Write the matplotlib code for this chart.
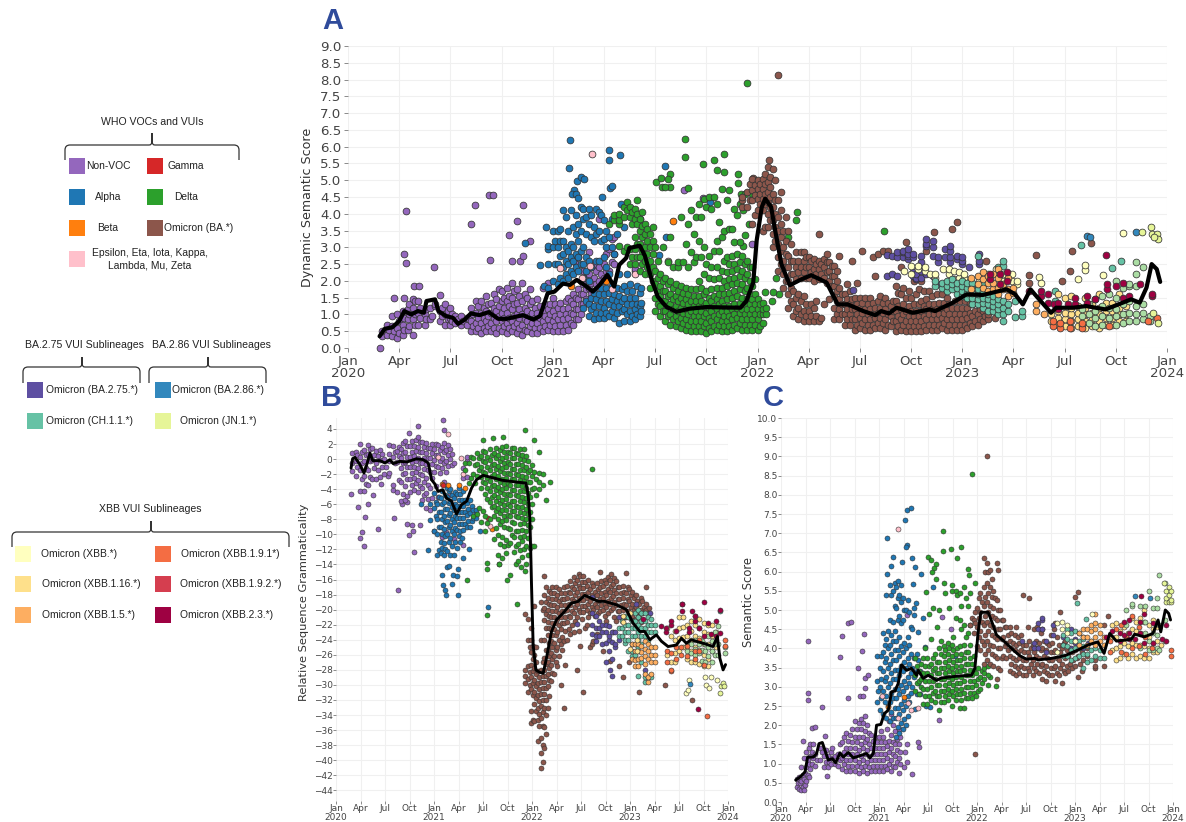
import matplotlib
matplotlib.use("Agg")
import matplotlib.pyplot as plt
from matplotlib.path import Path
from matplotlib.patches import PathPatch, Rectangle

# x values are months since Jan 2020; each row is [x, y1, y2, ...]
MONTH_LABELS = ["Jan\n2020","Apr","Jul","Oct","Jan\n2021","Apr","Jul","Oct","Jan\n2022","Apr","Jul","Oct","Jan\n2023","Apr","Jul","Oct","Jan\n2024"]

COL_NONVOC="#9467bd"; COL_ALPHA="#1f77b4"; COL_BETA="#ff7f0e"; COL_GAMMA="#d62728"; COL_DELTA="#2ca02c"; COL_OMI="#8c564b"; COL_OTHER="#ffc0cb"
COL_275="#5e4fa2"; COL_CH="#66c2a5"; COL_286="#3288bd"; COL_JN="#e6f598"; COL_XBB="#ffffbf"; COL_116="#fee08b"; COL_15="#fdae61"; COL_191="#f46d43"; COL_192="#d53e4f"; COL_23="#9e0142"; COL_EG="#abdda4"

# ---------- Panel A ----------
A_MEAN_X=[1.85,2.15,2.6,3.0,3.3,3.7,4.1,4.45,4.6,5.1,5.3,5.75,6.15,6.45,6.85,7.2,7.7,8.25,8.8,9.3,10.25,10.85,11.25,11.7,12.1,12.6,13,13.4,13.85,14.35,14.75,15.2,15.6,15.9,16.3,16.5,17.1,17.4,17.8,18.15,18.65,19.25,20,21,23,23.35,23.75,23.95,24.25,24.45,24.8,25.0,25.4,25.9,26.5,27.15,28.05,28.7,29.3,30.2,30.9,31.25,31.7,32.15,33.1,34.1,34.4,35.45,36.25,37.2,38.6,39.1,39.55,40,40.25,41.2,41.5,42.5,43.25,44.4,45.4,45.9,46.4,46.8,47.1,47.4,47.6]
A_MEAN_Y=[.35,.57,.62,.8,1.1,1.0,1.1,1.05,1.4,1.45,1.1,.95,.9,.72,.85,1.03,.98,1.07,.87,.87,.98,.85,.95,1.63,1.68,1.92,1.88,2.03,1.88,1.68,1.88,2.18,1.83,2.48,2.68,2.98,3.05,2.75,2.03,1.53,1.23,1.08,1.17,1.22,1.2,1.4,1.95,3.2,4.2,4.45,4.2,3.6,2.5,1.87,2.03,2.17,1.95,1.3,1.3,1.1,.98,1.1,1.03,1.2,1.05,1.15,1.1,1.35,1.6,1.58,1.75,1.6,1.3,1.75,1.6,1.05,1.2,1.2,1.25,1.15,1.35,1.45,1.35,1.8,2.5,2.35,1.97]
A_NONVOC=[[1.85,0.0],[2.0,.35,.5],[2.3,.4,.7],[2.4,.55],[2.6,.35,.65,.95],[2.7,.5],[2.9,.3,.6,1.0],[3.0,.45,.8],[3.2,.4,.7,1.1],[3.3,.55,.9,1.5],[3.5,.55,.85,1.15],[3.6,.65,1.0,1.3],[3.8,.4,.85,1.2,1.45],[3.9,.7,1.0,1.4],
[3.38,4.09,2.53],[3.28,2.81],[3.85,1.86],[4.16,1.86],[5.04,2.42],[2.68,1.5],
[4.1,.7,1.05,1.4],[4.2,.9,1.2],[4.5,.7,1.0],[4.6,.85,1.15],[4.8,.85,1.2],[4.95,.95],[5.1,1.25,1.3],[5.4,.8,1.1,1.58],[5.5,.95,1.2],[5.7,.7,1.0,1.3],[5.85,.85,1.1],[6.0,.7,.9,1.2],[6.1,.8,1.0],[6.3,.75,.95],[6.45,.85],[6.6,.7,.95],[6.75,.8],[7.0,.7,.9],[7.1,.85],
[7.2,.5,.8,1.2],[7.33,.65,1.0],[7.5,.5,.75,1.05,1.4],[7.62,.6,.9,1.25],[7.8,.45,.75,1.05,1.4],[7.95,.6,.9,1.2],[8.1,.5,.8,1.1,1.55],[8.22,.65,.95,1.3],[8.4,.5,.75,1.05,1.35],[8.55,.6,.9,1.2,1.6],[8.7,.45,.8,1.1,1.45],[8.85,.6,.95,1.25,1.75],[9.0,.5,.8,1.05,1.4,1.7],[9.15,.65,.9,1.2,1.5],[9.3,.45,.75,1.05,1.4,1.8],[9.45,.6,.9,1.25,1.55],[9.6,.5,.8,1.15,1.5,1.95],[9.75,.65,.95,1.3,1.7],[9.9,.45,.75,1.0,1.35,1.75],[10.05,.6,.9,1.15,1.55],[10.2,.4,.7,1.0,1.4,1.95],[10.35,.55,.85,1.2,1.6],[10.5,.5,.8,1.1,1.5],[10.65,.65,.95,1.3,1.75],[10.8,.45,.75,1.05,1.4],[10.95,.6,.9,1.2],[11.1,.45,.75,1.05,1.45],[11.25,.6,.9,1.25],[11.4,.5,.8,1.1,1.8],[11.55,.65,.95,1.3],[11.7,.55,.85,1.15,1.95],[11.85,.7,1.0,1.3],[12.0,.5,.8,1.1,1.5],[12.15,.65,.95,1.3],[12.3,.5,.85,1.2],[12.45,.7,1.0,1.35],[12.6,.5,.85,1.15],[12.75,.7,1.0,1.4],[12.9,.55,.9,1.2,1.5],[13.05,.75,1.05,1.4],[13.2,.7,1.0,1.3,1.6],[13.35,.85,1.15,1.5,2.5],[13.5,.85,1.15,1.45,1.75,2.7],[13.65,1.0,1.3,1.6,2.0],[13.8,1.3,1.6,1.9,2.3],[13.95,1.45,1.75,2.1],[14.1,1.4,1.8,2.2,2.85],[14.25,1.6,1.95,2.4],[14.4,1.7,2.1,2.5],[14.55,1.9,2.3],[14.7,2.0,2.4,3.85],[14.85,2.2],[15.0,2.1,2.5],[15.15,2.3,2.8],[15.3,2.3,2.95],[15.45,2.55,3.25],[15.6,2.5,2.8,3.3],[16.8,2.3,2.35],
[19.7,4.72],[20.8,4.47],[7.23,3.69],[7.44,4.27],[8.26,4.56],[8.5,4.55],[8.3,2.63],[9.43,3.38],[9.9,3.79],[10.23,4.27],[9.63,2.6],[10.06,2.6],[10.25,2.73],[10.64,3.2],[23.7,3.1]]
A_ALPHA=[[13.03,6.19],[12.95,5.36],[15.3,5.89,5.6],[15.94,5.76],[15.33,4.77],[15.47,4.82],[14.9,4.5],[13.44,4.98],[13.67,5.1],[13.85,5.03],[13.24,4.7],[13.1,4.6],[13.38,4.6],[13.5,4.47],[16,4.3],[11.58,3.62],[11.23,2.48],[11.5,1.84],[10.35,3.13],
[11.7,1.8,2.5,2.95,3.05],[12.0,2.0,3.0,3.5],[12.15,2.5,3.2],[12.3,1.9,2.5,3.0,3.5],[12.45,2.1,2.75,3.2,3.55],[12.6,2.0,2.4,2.8,3.2,4.1],[12.75,2.2,2.6,3.0,3.9],[12.9,2.1,2.5,2.9,3.5],[13.05,2.3,2.7,3.1,4.1],[13.2,2.2,2.6,3.0,3.6],[13.35,2.4,2.8,3.4,3.95],[13.5,2.3,2.7,3.2,3.7],[13.65,2.5,2.9,3.5,4.2],[13.8,1.2,2.1,2.5,3.0,3.85,4.15],[13.95,1.4,2.3,2.7,3.4,3.9],[14.1,.95,1.3,2.0,2.6,3.7,4.15],[14.25,1.15,1.5,2.4,3.3,3.95],[14.4,.85,1.25,1.65,3.2,3.6],[14.55,1.05,1.45,2.6,3.4,4.15],[14.7,.9,1.25,1.6,2.6,3.5,4.05],[14.85,1.05,1.4,1.8,3.2,3.95],[15.0,.9,1.2,1.6,2.0,2.7,3.25,3.8],[15.15,1.05,1.4,1.8,2.4,3.0,3.5],[15.3,.95,1.3,1.65,2.2,3.3],[15.45,1.1,1.45,1.85,3.0,3.85],[15.6,.9,1.25,1.6,2.8],[15.75,1.05,1.4,1.8,3.4],[15.9,.75,1.25,1.55,2.2],[16.05,1.1,1.4,1.75],[16.2,.8,1.15,1.5,1.85,3.6],[16.35,1.0,1.3,1.7,2.2],[16.5,.8,1.1,1.5,1.9],[16.65,.95,1.3,1.7],[16.8,.85,1.15,1.5],[16.95,1.0,1.3,1.85],[17.1,.95,1.25,1.65,3.85],[17.2,1.1,1.35,1.8],[18.65,3.3],[18.55,5.43],[18.2,2.76],[21.2,4.35]]
A_BETA=[[19.04,3.78],[13.05,1.86],[15.14,2.0]]
A_OTHER=[[14.32,5.77],[12.4,2.38],[13.7,2.1],[14.2,2.43],[15.47,1.76],[16.84,2.2],[18.75,2.58]]
A_DELTA=[[19.77,6.23,5.7],[20.8,5.48],[21.43,5.6],[21.62,5.3],[22.03,5.79,5.25],[22.85,5.2,4.93],[18.03,4.96],[18.36,5.08],[18.85,5.19,4.79],[18.73,5.04],[18.4,4.79],[18.6,4.79],[19.9,4.77],[23.06,4.6],[23.16,4.1,3.05],[23.5,3.7],[23.26,3.37],[23.36,7.9],[31.4,3.48],[26.3,4.06],[26.27,3.82],[25.76,3.3],[25.1,2.1],[24.43,1.66],[25.25,1.6],[24.86,1.39],
[15.3,3.7],[15.6,3.8,3.95],[15.9,3.05,3.7,3.8,4.0],[16.2,2.9,3.9,4.2],[16.35,3.0,4.1,4.35],[16.5,2.5,2.95,3.9,4.2],[16.65,2.7,3.7,4.05],[16.8,2.5,2.95,3.3,3.85,4.15],[16.95,2.7,3.1,3.7,4.0,4.4],[17.1,2.3,2.7,3.1,3.5,3.85],[17.25,2.5,2.9,3.3,3.65,4.05],[17.4,2.2,2.6,3.0,3.4,3.7],[17.55,2.4,2.8,3.2,3.55],[17.7,1.8,2.2,2.6,3.0,3.4],[17.85,2.0,2.4,2.8,3.2,3.6],
[18.0,1.1,1.5,1.9,2.3,3.0],[18.15,1.3,1.7,2.1,2.6],[18.3,.95,1.25,1.55,1.85,2.2],[18.45,1.1,1.4,1.7,2.0,3.0],[18.6,.8,1.1,1.4,1.7,2.1],[18.75,.95,1.25,1.55,1.9,2.55],[18.9,.7,1.0,1.3,1.6,2.0,3.3],[19.05,.85,1.15,1.45,1.8,2.4],[19.2,.65,.95,1.25,1.55,1.9],[19.35,.8,1.1,1.4,1.7,2.4,2.55],[19.5,.6,.9,1.2,1.5,1.85,3.9],[19.65,.75,1.05,1.35,1.65,2.55],[19.8,.55,.85,1.15,1.45,1.8,3.1],[19.95,.7,1.0,1.3,1.6,2.4,3.7],[20.1,.5,.8,1.1,1.4,1.75,2.85,4.1],[20.25,.65,.95,1.25,1.55,2.55,3.4],[20.4,.5,.8,1.1,1.4,1.75,2.7,3.9],[20.55,.65,.95,1.25,1.55,2.0,3.2,4.3],[20.7,.5,.8,1.1,1.4,1.8,2.7,3.9],[20.85,.65,.95,1.25,1.6,2.2,3.0,4.45],[21.0,.45,.75,1.05,1.35,1.7,2.5,4.2],[21.15,.6,.9,1.2,1.5,2.1,2.75,4.5],[21.3,.5,.8,1.1,1.4,1.75,2.4,4.15],[21.45,.65,.95,1.25,1.55,2.05,2.9,4.5],[21.6,.55,.85,1.15,1.45,1.8,2.4,3.2,4.3],[21.75,.7,1.0,1.3,1.6,2.1,2.9,3.75],[21.9,.5,.8,1.1,1.4,1.8,2.3,3.3,4.75],[22.05,.65,.95,1.25,1.6,2.0,2.6,3.5],[22.2,.5,.8,1.1,1.45,1.85,2.25,2.7,4.4],[22.35,.65,.95,1.25,1.65,2.05,2.5,3.55,4.7],[22.5,.55,.85,1.15,1.5,1.9,2.3,2.75,3.55],[22.65,.7,1.0,1.3,1.7,2.1,2.5,3.15,4.15],[22.8,.6,.9,1.2,1.55,1.95,2.35,2.8,3.95],[22.95,.75,1.05,1.35,1.75,2.15,2.55,3.15,4.3],[23.1,.55,.85,1.15,1.5,1.9,2.3,2.75],[23.25,.7,1.0,1.3,1.7,2.1,2.5,4.6],[23.4,.55,.85,1.15,1.45,1.8,2.2,2.6],[23.55,.7,1.0,1.3,1.6,2.0,2.4],[23.7,.55,.85,1.15,1.45,1.85,2.4,4.6],[23.85,.7,1.0,1.3,1.6,2.05],[24.0,.55,.85,1.15,1.45],[24.15,.65,1.0,1.3],[24.3,.75,1.0,1.15,1.35],[24.5,1.0,1.2],[24.88,1.66]]
A_OMI=[[24.68,5.59],[23.75,5.06],[23.1,4.2,4.4,4.5],[23.4,4.2,4.65],[23.55,4.4,4.9],[23.7,3.7,4.4,4.7,5.05],[23.85,3.95,4.55,4.85],[24.0,4.1,4.45,4.75,5.0],[24.15,4.3,4.6,4.9],[24.3,3.5,4.1,4.45,4.75,5.05],[24.45,3.6,4.3,4.6,4.9,5.18],[24.6,3.6,4.0,4.35,4.65,4.95,5.38],[24.75,3.8,4.2,4.5,4.8,5.1],[24.9,3.0,3.4,3.8,4.2,4.6,5.34],[25.05,3.2,3.6,4.0,4.4,5.0],[25.2,2.3,2.7,3.1,3.5,3.9,4.4,8.14],[25.35,2.5,2.9,3.3,3.7,4.1,4.65],[25.5,1.8,2.2,2.6,3.0,3.5],[25.65,2.0,2.4,2.8,3.2,3.9],[25.8,1.2,1.6,2.0,2.4,2.75,3.5],[25.95,1.4,1.8,2.2,2.6,3.1],[26.1,.95,1.3,1.7,2.2,2.6],[26.25,1.1,1.5,2.05,2.4,2.85],[26.4,.85,1.2,1.6,2.25,2.6],[26.55,1.0,1.4,2.1,2.4,2.85],[26.7,.8,1.1,1.55,2.25,2.6,2.85],[26.85,.95,1.3,2.1,2.4,2.7],[27.0,.8,1.1,2.1,2.4,2.7],[27.15,.95,1.3,2.25,2.6],[27.3,.8,1.2,2.0,2.35,2.65],[27.45,.95,1.4,2.2,2.5],[27.6,.8,2.05,2.35,2.6,3.4],[27.75,.9,2.2,2.5],[27.9,1.3,2.1,2.4,2.65],[28.05,1.95,2.25,2.55,2.8],[28.2,1.45,2.0,2.3,2.55],[28.35,1.85,2.15,2.45],[28.5,.85,1.2,1.55,1.85,2.15,2.45],[28.65,1.0,1.4,1.7,2.0,2.3],[28.8,.85,1.15,1.45,1.8,2.75],[28.95,1.0,1.3,1.6],[29.1,.7,1.0,1.3,1.6],[29.25,.85,1.15,1.45,1.9],[29.4,.7,1.0,1.3,1.7],[29.55,.85,1.15,1.45,2.6],[29.7,.55,.85,1.15,1.5],[29.85,.7,1.0,1.3,1.95],[30.0,.6,.9,1.2,1.5],[30.15,.75,1.05,1.35,2.9],[30.3,.55,.85,1.15,1.5],[30.45,.7,1.0,1.3],[30.6,.55,.85,1.15,1.5],[30.75,.7,1.0,1.35,2.7],[30.9,.6,.9,1.2,2.15],[31.05,.75,1.05,1.4,2.8],[31.2,.6,.9,1.2,1.55],[31.35,.75,1.05,1.35,2.9],[31.5,.55,.85,1.15,1.5],[31.65,.7,1.0,1.35,2.9],[31.8,.65,.95,1.25],[31.95,.8,1.1,1.4],[32.1,.5,.8,1.1,1.4,1.85],[32.25,.65,.95,1.25,1.65],[32.4,.55,.85,1.15,1.6,2.4],[32.55,.7,1.0,1.3,1.8],[32.7,.5,.8,1.1,1.5,3.15],[32.85,.65,.95,1.25,1.7],[33.0,.5,.8,1.1,1.5],[33.15,.65,.95,1.3,2.0],[33.3,.5,.8,1.1,1.6],[33.45,.65,.95,1.3,1.75],[33.6,.5,.8,1.1,1.4,2.0],[33.75,.65,.95,1.25,1.7],[33.9,.55,.85,1.15,1.45,2.9],[34.05,.7,1.0,1.3,1.7],[34.2,.55,.85,1.15,1.55],[34.35,.7,1.0,1.3,3.45],[34.5,.55,.85,1.15,1.6],[34.65,.7,1.0,1.35],[34.8,.6,.9,1.2,1.6],[34.95,.75,1.05,1.35],[35.1,.55,.85,1.15,1.5],[35.25,.7,1.0,1.3],[35.4,.55,.85,1.2,3.55],[35.55,.7,1.0,1.4],[35.7,.55,.85,1.2,3.75],[35.85,.7,1.0,1.4],[36.0,.55,.85,1.2],[36.15,.7,1.0,1.4],[36.3,.6,.9,1.2],[36.45,.75,1.05,1.35],[36.6,.65,.95,1.3],[36.75,.8,1.1],[36.9,.7,1.0],[37.05,.85,1.15],[37.2,.8,1.1],[37.35,.95],[37.5,.85,1.0],[37.9,.9],[37.42,2.58],[40.3,2.76],[42.44,2.88],[43.57,3.13],[42.34,2.28],[41.87,2.0],[39.9,1.94,2.18]]
A_275=[[29.57,1.74],[31.6,2.15,2.77],[31.9,2.2,2.75],[32.2,2.15,2.7,2.85],[32.5,2.7,2.85,2.9],[32.8,2.65,2.75,2.8,2.95],[33.1,2.15,2.25,2.7,2.8],[33.3,2.05,2.1,2.2],[33.6,2.1,2.3,2.55,2.75],[33.9,2.2,3.05,3.1,3.25],[34.3,2.15,2.75,3.0,3.2],[34.6,1.9,2.55,2.7],[35.0,2.7,2.95],[35.3,2.55,2.7,2.9,3.05],[35.7,2.65,2.75],[36.0,2.5,2.6,2.7],[36.4,2.4],[37.0,2.5,2.6,2.8]]
A_CH=[[34.4,1.85,2.0],[34.8,1.8,1.95],[35.1,1.7,1.85,2.0],[35.4,1.75,1.9,2.05],[35.7,1.6,1.8,1.95],[36.0,1.55,1.7,1.85,2.0],[36.3,1.5,1.65,1.8,1.95],[36.6,1.3,1.5,1.65,1.8,1.95],[36.9,1.3,1.45,1.6,1.75,2.75],[37.2,1.2,1.35,1.5,1.7,1.9],[37.5,1.1,1.3,1.45,1.6],[37.8,1.1,1.25,1.4,1.55],[38.1,1.0,1.15,1.3,1.45,2.4],[38.4,.8,1.0,1.2,1.4,2.45,2.6],[38.7,1.1,1.3],[39.1,.93,1.4],[39.5,.95,1.1],[42.98,3.08],[44.75,2.38],[45.3,2.58],[41.46,1.4,1.7]]
A_XBB=[[32.6,2.3],[33.0,2.2,2.45],[33.4,2.35,2.45],[33.8,2.3,2.4],[34.1,2.2],[34.4,2.1,2.2],[34.9,2.35],[35.2,2.2,2.35],[35.5,2.05,2.3],[35.8,2.1,2.25],[36.1,2.1,2.2],[37,1.9,2.0],[37.5,2.0,2.2],[38,2.35],[38.4,2.0,2.2],[38.9,2.0,2.2],[39.2,1.9,2.0],[40.5,2.12],[40.6,1.93],[43.2,2.33,2.46],[42.8,2.05],[44.25,2.18],[45.4,3.42]]
A_15=[[36.5,1.75,2.1],[36.9,1.9,2.15],[37.2,1.8,2.05,2.25],[37.5,1.7,1.95,2.15],[37.8,1.75,1.95,2.2],[38.1,1.6,1.8,2.1,2.35],[38.4,1.75,1.9],[38.7,1.55,1.75,2.1],[39.0,1.65,1.8],[40.3,1.1,1.3],[40.8,1.0]]
A_116=[[41.2,.8,1.0],[41.6,.7,.9,1.1,1.6],[42.0,.65,.85,1.05,1.5],[42.4,.6,.8,1.0,1.2,1.55],[42.8,.65,.85,1.05,1.25],[43.2,.6,.8,1.0,1.2,1.5],[43.6,.65,.85,1.05,1.3],[44.0,.6,.8,1.0,1.2,1.6],[44.4,.7,.9,1.1,1.35],[44.8,.7,.9,1.1,1.35],[45.2,.8,1.0,1.2,1.6],[45.6,.8,1.0,1.25]]
A_191=[[41.3,.65,.8],[41.7,.6,.75],[42.3,.6,.8],[43.0,.6,.75],[44.6,.65],[46.9,.8],[47.4,.9]]
A_EG=[[43.0,.7,.95,1.15],[43.4,.75,1.0,1.3],[43.8,.65,.9,1.1,1.45],[44.2,.7,.95,1.25,1.55],[44.6,.9,1.2,1.6],[45.0,.7,.95,1.15,1.5,2.0],[45.4,.75,1.0,1.3,1.8],[45.8,.8,1.05,1.4,1.85,1.9],[46.2,.8,1.0,1.25,1.85,2.2,2.55],[46.6,.85,1.05,1.3,2.4],[47.0,.8,.95]]
A_23=[[37.6,2.05,2.2],[38.2,1.9,2.2],[38.6,2.0,2.25],[39.9,1.7],[40.6,1.55,1.7],[41.0,1.35,1.6],[41.4,1.3],[41.6,1.15,1.35],[42.2,1.3],[42.6,1.3,1.5],[43.3,1.35,1.55],[43.8,1.45],[44.5,1.75,1.9],[45.0,1.85],[45.4,1.5,1.95],[45.8,1.55],[46.4,1.9],[47.1,1.55,1.6],[44.45,2.76]]
A_286=[[46.2,3.46],[43.33,3.35],[43.5,3.3]]
A_JN=[[47.05,3.62],[47.15,3.4],[47.4,3.4],[47.5,3.25],[47.25,3.3],[46.56,3.45],[47.46,.75],[47.2,1.05]]

# ---------- Panel B ----------
B_MEAN_X=[1.84,2.04,2.32,2.94,3.43,3.83,4.16,4.49,5.38,6.0,6.6,7.0,7.83,8.65,9.87,10.7,11.3,11.7,12.1,12.5,13.05,13.54,14.15,14.76,15.37,15.99,16.6,17.2,18.03,19.25,20.47,22.1,23.25,23.53,23.74,23.94,24.14,24.47,24.88,25.37,25.77,26.39,27,27.8,28.83,29.65,30.46,31.28,32.1,32.9,34.34,35.56,36.38,37.2,37.8,38.42,39.23,39.85,40.66,41.68,42.3,42.9,43.5,44.1,44.94,46.17,46.7,47,47.4,47.7]
B_MEAN_Y=[-1.2,.06,.23,-.74,-1.85,-.52,.8,-.2,-.2,-.52,-.08,-.6,-.3,-.39,.05,-.08,-.52,-2.74,-3.3,-4.3,-4.07,-5.18,-5.6,-7.3,-6.06,-5.6,-3.85,-2.74,-2.16,-2.5,-2.83,-3.05,-3.18,-4.73,-7.84,-16.7,-24.68,-28,-28.3,-28.45,-26.45,-22.9,-21.35,-20.47,-19.14,-18.9,-18.1,-18.5,-18.9,-18.9,-19.36,-20,-21.8,-22.9,-22.9,-24,-23.35,-24.2,-24.9,-24.7,-23.8,-24.46,-24,-24.2,-24.46,-24.9,-23.57,-26.45,-28,-27.3]
B_NONVOC=[[1.84,-4.7],[2.73,-6.4],[3.96,-6],[3.14,-9.75],[2.94,-10.5],[3.43,-11.6],[3.55,-7.7],[4.57,-4.8],[5.18,-9.3],[5.47,-3.3],[6.4,-2.3],[6.93,-4.07],[7.14,-7.85],[7.63,-17.4],[8.73,-8.6],[9.26,-8.8],[8.93,-10.1,3.5],[9.46,-9.6],[10.28,-8.7],[9.6,-12.3],[8.1,-6],[8.65,-5.7],[10.07,4.35],[13.05,5.2],[13.25,3.9],
[1.9,-1.6,-.5,.8],[2.4,-2.2,-.2,1.0],[2.6,-1,.5],[2.9,-4.2,-1.5,.3,2.0],[3.15,-2.6,-.5,1.0],[3.4,-4.2,-2.3,-.2,1.2],[3.65,-3.3,-1.2,.6],[3.9,-3.4,-1.5,.7,1.9],[4.15,-2.4,-.2,1.3],[4.4,-2.6,-.1,1.5],[4.65,-1.2,.6],[4.9,-2.6,-.5,1.1],[5.15,-1.4,.4],[5.4,-2.4,-.1,1.2],[5.65,-1,.7],[5.9,-2.0,.0],[6.15,-1.1],[6.5,-1.9,-.2,.7,1.9],[7.0,-3.5,.3,1.7],[7.25,-.5,1.0],[7.5,-4.4,-.4,1.1],[7.75,-2.8,.4,1.6],[8.0,-5.6,-3.0,-1.2,.2,1.4],[8.25,-4.6,-2,-.5,.8,2.1],[8.5,-5.4,-3.6,-1.9,-.4,1,2.4],[8.75,-4.9,-2.7,-1.1,.3,1.7],[9.0,-4.4,-2.7,-1.1,.3,1.7],[9.25,-3.5,-1.9,-.4,1,2.4],[9.5,-4.1,-2.5,-1,.4,1.8],[9.75,-3.2,-1.7,-.3,1.1,2.5],[10.0,-4.4,-2.8,-1.2,.2,1.6,3],[10.25,-3.6,-2,-.5,.9,2.3],[10.5,-5.4,-3.9,-2.1,-.5,.9,2.3],[10.75,-4.8,-3,-1.3,.2,1.6],[11.0,-6.5,-4.5,-2.5,-.7,.8,2.2],[11.25,-5.3,-3.5,-1.5,.1,1.5],[11.5,-6.7,-3.8,-1.7,.1,1.5],[11.75,-5.2,-2.5,-.7,.8,2.0],[12.0,-9.5,-1.7,-.1,1.3],[12.25,-3.6,-.9,.6,2.0],[12.5,-5,-1,.5,1.9],[12.75,-1.8,-.2,1.2],[13.0,-10.3,-1.2,.2,1.6],[13.25,-3,-.5,.9,2.2],[13.5,-9.7,-1.7,-.2,1.2],[13.75,-3.6,-.9,.5,1.9],[14.0,-4.8,0,1.4],[14.25,-.8,.7],[14.5,-10.6,-6.6,-4.9,-.5],[15.5,-11.4,-2.5,-1.2],[16,-2.4,-.2,.3]]
B_ALPHA=[[10.36,-6],[11.3,-12.1],[11.5,-8.05,-6],[12.93,-15.4],[13.13,-16.7],[13.33,-17.4],[13.46,-18],[13.62,-14.3],[13.87,-14.2],[14.35,-15.4],[14.23,-16.6],[14.76,-15.5],[14.89,-14.6,-18.1],[15.54,-13.2],[16.3,-11.9],[18.64,-19.6],
[12.0,-9.5,-6.5,-4.5],[12.2,-7.5,-5.7],[12.4,-12.8,-10,-8,-6],[12.6,-12.1,-9,-7,-5],[12.8,-12.5,-11,-9,-7,-5.2],[13.0,-11.8,-10,-8,-6,-4.3],[13.2,-12.8,-11.2,-9.3,-7.5,-5.7],[13.4,-12,-10.2,-8.4,-6.6,-4.8],[13.6,-12.2,-10,-8.2,-6.6,-5,-3.8],[13.8,-11,-9,-7.4,-5.8,-4.2],[14.0,-12.8,-10.5,-8.8,-7.2,-5.6,-4],[14.2,-11.6,-9.6,-8,-6.4,-4.8],[14.4,-12.8,-10,-8.4,-6.8,-5.2],[14.6,-11,-9.2,-7.6,-6,-4.4],[14.8,-11.8,-9.4,-7.8,-6.2,-4.6],[15.0,-10.2,-8.6,-7,-5.4,-3.8],[15.2,-11,-9.5,-7.8,-6.2,-4.6],[15.4,-10.5,-8.6,-7,-5.4],[15.6,-9.4,-7.8,-6.2,-4.3],[15.8,-8.6,-7,-5.4],[16.0,-9,-7.4,-5.8],[16.2,-8.2,-6.6],[16.4,-9,-7.2,-5.4],[16.6,-8.2,-6.2],[16.8,-7.8,-6.8],[17.0,-7.5],[17.2,-7.8,-7.2,-6.7],[17.6,-9.5]]
B_BETA=[[12.93,-3.27],[13.74,-3.5],[15.09,-3.5],[15.78,-3.9],[19.05,-9.25]]
B_GAMMA=[[13.1,-3.4],[18.64,-7.84]]
B_OTHER=[[13.74,3.38],[12.44,.3],[15.6,-2],[15.25,.2],[18.84,-8.9]]
B_DELTA=[[23.12,3.9],[24.27,2.6],[24.88,1],[20.47,3],[19.25,2.8],[17.94,2.6],[31.36,-1.3],[26.26,-3.1],[25.77,-5.4],[16,-16.1],[18.43,-13.8,-14.6,-20.7],[22.2,-19.2],[21.3,-15.4],[20.96,-16],[23.1,-14.8],[19.9,-14],[20,-13.9],[22.1,-14],[22.7,-14.3],
[15.8,-1.5,-.5],[16.3,-3.2,-.5],[16.5,-2.5,.3],[16.8,-7.5,-2,.2],[17.0,-3.2,-.8],[17.3,-7.3,-2.3,-.7,.8],[17.55,-6.5,-1.5,.1],[17.8,-8.3,-3.8,-2.4,-1,.4],[18.05,-6.9,-3.1,-1.7,-.3,1.1],[18.3,-9.5,-7.5,-4.6,-3.2,-1.8,-.4,1.0],[18.55,-8.5,-5.3,-3.9,-2.5,-1.1,.3],[18.8,-8,-5.7,-4.3,-2.9,-1.5,-.1,1.3],[19.05,-6.4,-5,-3.6,-2.2,-.8,.6],[19.3,-10.6,-7.6,-6.2,-4.8,-3.4,-2,-.6,.8],[19.55,-9.2,-6.9,-5.5,-4.1,-2.7,-1.3,.1,1.5],[19.8,-12.8,-10.1,-7.9,-6.5,-5.1,-3.7,-2.3,-.9,.5],[20.05,-11.3,-8.6,-7.2,-5.8,-4.4,-3,-1.6,-.2,1.2],[20.3,-13.2,-10.3,-8.2,-6.8,-5.4,-4,-2.6,-1.2,.2,1.6],[20.55,-11.6,-9,-7.5,-6.1,-4.7,-3.3,-1.9,-.5,.9],[20.8,-12.5,-10.7,-8.1,-6.7,-5.3,-3.9,-2.5,-1.1,.3,1.7],[21.05,-11.4,-9.2,-7.4,-6,-4.6,-3.2,-1.8,-.4,1],[21.3,-11.2,-9.3,-7.6,-6.2,-4.8,-3.4,-2,-.6,.8],[21.55,-10.1,-8.3,-6.9,-5.5,-4.1,-2.7,-1.3,.1,1.5],[21.8,-12.3,-10.4,-8.5,-6.9,-5.5,-4.1,-2.7,-1.3,.1,1.5],[22.05,-11.5,-9.5,-7.6,-6.2,-4.8,-3.4,-2,-.6,.8],[22.3,-13.6,-11.3,-9.5,-7.7,-6.3,-4.9,-3.5,-2.1,-.7,.7],[22.55,-12.1,-10.3,-8.6,-7,-5.6,-4.2,-2.8,-1.4,0,1.4],[22.8,-13,-10.9,-9.4,-7.8,-6.4,-5,-3.6,-2.2,-.8,.6],[23.05,-12,-10.2,-8.5,-7.1,-5.7,-4.3,-2.9,-1.5,-.1,1.3],[23.3,-14,-11.5,-9.6,-8,-6.6,-5.2,-3.8,-2.4,-1,.4],[23.55,-12.8,-10.5,-8.7,-7.3,-5.9,-4.5,-3.1,-1.7,-.3],[23.8,-11.8,-9,-7,-5,-3,-1.5],[24.05,-11.5,-8,-6,-4,-2.2,-.8],[24.3,-11.5,-3.8,-1.7],[24.5,-4.8,-2.7],[24.8,-4,-3,-1.8],[25.3,-3.5,-2]]
B_OMI=[[40.34,-30],[43.6,-32],[42.37,-19.2],[23.1,-29.7,-28.8,-28,-20.6],[23.5,-31,-29.2,-27.5,-24,-21.2],[23.7,-30,-28.3,-25],[23.9,-35,-33.5,-30.5,-28.9,-27.3,-25.6,-24,-22.5],[24.1,-34.6,-31.4,-29.7,-28.1,-26.5,-24.8],[24.3,-34.8,-32.6,-31,-29.4,-27.8,-26,-19.5],[24.5,-33.5,-31.8,-30.2,-28.6,-27,-25],[24.7,-37.5,-34.6,-33,-31.4,-29.8,-28.2],[24.9,-35.5,-33.8,-32.2,-30.6,-29],[25.1,-41,-39,-37,-34.4,-32.8,-31.2,-29.6,-28,-24,-19],[25.3,-40.2,-38,-35.5,-33.6,-32,-30.4,-28.8,-27,-20],[25.5,-38.4,-35.6,-33,-31.2,-29.6,-28,-26.4,-24,-21.4,-19.8,-18,-15.5],[25.7,-36.5,-34,-32,-30.4,-28.8,-27.2,-25.4,-22.4,-20.6,-19,-17],[25.9,-33,-30.2,-28.6,-27,-25.4,-23.4,-21.6,-20,-18.4],[26.1,-31.5,-29.4,-27.8,-26.2,-24.4,-22.4,-20.8,-19.2,-17.5],[26.3,-29.5,-27.4,-25.8,-24.2,-22.6,-21,-19.4,-17.8],[26.5,-28.4,-26.6,-25,-23.4,-21.8,-20.2,-18.6,-17],[26.7,-28.5,-26.2,-24.4,-22.6,-21,-19.4,-17.8],[26.9,-27,-25.4,-23.4,-21.8,-20.2,-18.6,-17],[27.1,-27.5,-25,-23,-21.2,-19.6,-18],[27.3,-26.2,-24,-22,-20.4,-18.8,-17.2],[27.5,-30,-24.6,-22.6,-21,-19.4,-17.8],[27.7,-25.4,-23.6,-21.8,-20.2,-18.6],[27.9,-33,-24.2,-21.8,-20.2,-18.6,-17],[28.1,-27.3,-22.8,-21,-19.4,-17.8],[28.3,-24,-21.6,-20,-18.4,-16.8],[28.5,-22.6,-20.8,-19.2,-17.6],[28.7,-23.2,-21,-19.4,-17.8,-16.2],[28.9,-22,-20.2,-18.6,-17],[29.1,-23,-20.5,-18.9,-17.3,-15.7],[29.3,-21.5,-19.7,-18.1,-16.5],[29.5,-28,-21,-19.2,-17.6,-16],[29.7,-22.8,-20,-18.4,-16.8,-15.3],[29.9,-24.8,-20.3,-18.7,-17.1,-15.5],[30.1,-21.2,-19.5,-17.9,-16.3],[30.3,-31,-20.3,-18.7,-17.1,-15.5],[30.5,-22.5,-19.5,-17.9,-16.3],[30.7,-22,-20,-18.4,-16.8],[30.9,-21,-19.2,-17.6,-16],[31.1,-25,-20.5,-18.9,-17.3],[31.3,-24.5,-19.7,-18.1,-16.5],[31.5,-24.2,-20,-18.4,-16.8],[31.7,-20.8,-19.2,-17.6],[31.9,-23.3,-19.6,-18,-16.4],[32.1,-20.4,-18.8,-17.2],[32.3,-20.2,-18.6,-17,-15],[32.5,-19.4,-17.8,-16.2],[32.7,-25.5,-20,-18.4,-16.8],[32.9,-20.8,-19.2,-17.6,-16],[33.1,-21.5,-19.7,-18.1,-16.5],[33.3,-20.5,-18.9,-17.3,-15.7],[33.5,-26.8,-19.2,-17.6,-16],[33.7,-20,-18.4,-16.8,-15.2],[33.9,-23,-19.8,-18.2,-16.6],[34.1,-21,-19,-17.4,-15.8],[34.3,-21.5,-19.4,-17.8,-16.2],[34.5,-20.2,-18.6,-17],[34.7,-27.5,-20.2,-18.6,-17],[34.9,-21,-19.4,-17.8],[35.1,-29,-20,-18.4,-16.8],[35.3,-21,-19.2,-17.6],[35.5,-21,-19.4,-17.8,-15.1],[35.7,-20.2,-18.6,-17],[35.9,-27,-20.5,-18.9,-17.3],[36.1,-21.3,-19.7,-18.1],[36.3,-20.8,-19.2,-17.6],[36.5,-20,-18.4],[36.7,-21.2,-19.6,-18],[36.9,-20.4,-18.8],[37.1,-31,-20.8,-19.2],[37.3,-21.6,-20,-18.4],[37.5,-20.4,-18.8],[37.7,-19.6],[37.9,-20,-19.2,-17],[38.3,-20.5,-19.8]]
B_275=[[29.5,-21.9],[31.3,-18.3,-20.5,-22,-23.3],[31.8,-24.2,-23.5,-22.5,-20.8],[32.2,-23.5,-22.5,-21.5],[32.6,-24.5,-23,-22],[33.0,-27,-24.4,-23,-22],[33.4,-25.5,-24,-23.5,-22.2],[33.8,-28.8,-26.5,-24.3,-23],[34.2,-25,-24.5,-23],[34.6,-24,-21],[36.7,-19.2],[37.8,-28],[38.4,-20.5],[33.5,-28]]
B_CH=[[34.6,-23.5,-22.5],[35.0,-23.5,-22.5,-21.5],[35.4,-24.4,-24,-23,-22,-20.8],[35.8,-25.5,-24,-23,-22,-21],[36.2,-26.2,-25.5,-24.5,-23.5,-22.5,-21.5],[36.6,-26,-24.5,-23.5,-22.5,-21.5,-20.5],[37.0,-28.8,-25,-24,-23,-22,-21,-20],[37.4,-27,-24.5,-23.5,-22.5,-21.5,-20.5],[37.8,-29.6,-29,-23.5,-22.5,-21.5,-20.5],[38.2,-28.9,-24,-23,-22,-21],[38.6,-29,-23,-22,-21.2],[39.1,-23,-22],[47,-20.2]]
B_15=[[36.2,-26.5,-24.5],[36.6,-27.5,-26.7,-25.5,-24.5],[37,-27.5,-26.5,-25.5,-24.5],[37.4,-26.4,-25.6,-24.8],[37.8,-28.5,-27.2,-26.2,-25.2,-24.2],[38.2,-29.6,-29,-26.5,-25.5,-24.5],[38.6,-28.5,-27,-26,-25],[39.0,-27,-26,-25]]
B_116=[[35.2,-21.6,-20.8],[36,-25.2,-20.5],[36.8,-25.5,-24],[40.5,-26,-22.5],[41,-27,-23.5],[41.5,-27,-25.8,-24,-22.8],[42,-25.5,-23.8,-22.5,-21],[42.5,-25,-23.6,-22.3,-21],[43,-26.5,-25.2,-23.5,-22],[43.5,-27,-25.5,-24,-22.8,-21.5],[44,-27,-25,-23.5,-22,-20.8],[44.5,-27.2,-25.3,-23.8,-22.5,-21.3],[45,-27.5,-26,-24.5,-23,-21.8],[45.5,-27.5,-26.5,-24.6,-23.3,-22],[46,-25.5,-23.5,-22],[46.5,-25,-23]]
B_XBB=[[42.9,-31.1],[43.2,-29.3],[43.1,-30.7],[45.35,-30],[45.7,-30.4],[45.15,-29],[45.96,-29],[46.6,-29.3]]
B_23=[[37.6,-21.3],[39.8,-22.2],[40.4,-23,-22.5],[41,-22,-21.5],[41.6,-22.8],[42.4,-20.2,-19.2],[43.2,-23,-22.5],[43.6,-20.2],[44,-21.5,-20.8],[44.5,-22.5],[45,-23.5,-19],[45.5,-21.8],[45.9,-23.2],[46.5,-23.5,-21.5],[47,-23.1,-20],[44.3,-33.2]]
B_191=[[40.5,-27,-25.5],[41,-28.2,-28,-25.7],[41.6,-26.5,-25],[42.3,-26,-25],[43,-26.2,-24.8],[44,-26.5,-25.5],[44.5,-25.5,-24],[45,-27.4],[45.47,-34.1],[47.6,-24.8,-24]]
B_EG=[[43,-25.5,-24.7],[43.5,-25.7,-24.5],[44,-26,-25.2,-24],[44.4,-25.8,-24.6],[44.8,-26.8,-25.3,-24.2],[45.2,-27,-25.5,-24.5],[45.6,-26.2,-25,-23.5],[46,-27,-25.5,-24.2],[46.4,-26,-24.6,-23],[46.8,-26,-24.5,-22.2],[47.6,-25.8,-25]]
B_286=[[43.3,-29.9]]
B_JN=[[47.06,-31.1],[47.2,-30.2],[47.4,-29.8],[47.5,-30.2]]

# ---------- Panel C ----------
C_MEAN_X=[1.8,2.32,2.94,3.26,3.96,4.36,4.65,5.06,5.38,5.79,6.28,6.69,7.22,7.63,8.24,8.85,10.48,10.89,11.3,11.7,12.23,12.64,13.13,13.54,13.95,14.36,14.76,15.38,15.99,16.6,16.8,17.4,18.03,19.05,19.66,21.7,23.33,23.74,24.14,24.47,25.37,25.98,26.39,27.4,28.43,29.24,30.06,31.08,31.48,33.1,34.75,36.38,37.6,38.8,39.56,40.25,41.07,42.9,43.3,44.5,45.55,46.17,46.5,47.06,47.47,47.7]
C_MEAN_Y=[.57,.65,.78,1.17,1.17,1.26,1.52,1.55,1.35,1.09,1.13,1.02,1.28,1.17,1.29,1.15,1.26,1.15,1.26,2.0,2.02,2.3,2.39,2.87,2.89,3.09,3.57,3.43,3.48,3.3,3.43,3.22,3.3,3.17,3.23,3.28,3.3,3.48,4.43,4.94,4.94,4.6,4.35,4.17,3.96,3.81,3.72,3.74,3.7,3.74,3.81,3.96,4.09,4.17,3.87,4.39,4.19,4.24,4.37,4.3,4.39,4.74,4.43,5.0,4.91,4.74]
C_NONVOC=[[3.34,4.2,2.65],[3.26,2.85],[5.06,2.48],[3.75,1.94],[4.16,1.95],[2.65,1.58],[5.38,1.71],[7.22,3.78],[7.42,4.33],[8.24,4.66,2.72],[8.56,4.69],[9.38,3.5],[9.87,3.93],[10.2,4.37],[10.28,3.23,2.96],[10.6,3.32],[9.66,2.76],[10.07,2.76],[19.66,4.81],[20.76,4.5],[19.33,2.13],[15.37,4.87,1.5],[16.72,1.55],[16.88,1.43],[15.99,.74],[15.17,1.3],[15.45,1.04],[15.09,.91],[5.59,.68],
[1.9,.4,.6],[2.05,.5],[2.2,.35,.65],[2.35,.5],[2.5,.3,.55,.9],[2.65,.4,.7],[2.8,.3,.6,1.15],[2.95,.45,.75],[3.1,.55,.9,1.3],[3.25,.7,1.1],[3.4,.65,1.0,1.4],[3.55,.85,1.2,1.5],[3.8,1.0,1.3],[3.95,1.15,1.5],[4.2,.95,1.25],[4.35,1.1],[4.8,1.1,1.4],[5.0,1.3],[5.3,.9,1.2],[5.5,1.05,1.35],[5.7,.9,1.2],[5.9,1.05],[6.1,1.0,1.3],[6.3,1.15,1.4],[6.6,1.0,1.2],[7.0,.95,1.25],[7.2,1.1,1.5],[7.5,.85,1.15,1.55],[7.75,1.0,1.3,1.7],[8.0,.8,1.1,1.4,1.8],[8.25,.95,1.25,1.6],[8.5,.8,1.1,1.4,1.75],[8.75,.95,1.25,1.55,1.9],[9.0,.8,1.1,1.4,1.7,2.1],[9.25,.95,1.25,1.55,1.9],[9.5,.75,1.05,1.35,1.7,2.05],[9.75,.9,1.2,1.5,1.9,2.15],[10.0,.8,1.1,1.4,1.7,2.05],[10.25,.95,1.25,1.55,1.85,2.25],[10.5,.75,1.05,1.35,1.65,2.0],[10.75,.9,1.2,1.5,1.8],[11,.8,1.1,1.4,1.75],[11.25,.95,1.25,1.6],[11.5,.8,1.1,1.4,1.7],[11.75,.95,1.25,1.55],[12,.8,1.1,1.4,1.7],[12.25,.95,1.25,1.55,1.85],[12.5,.8,1.1,1.4,1.7],[12.75,.95,1.25,1.55],[13,.85,1.15,1.45,1.9],[13.25,1.0,1.3,1.6,2.1],[13.5,.8,1.1,1.4,1.75,2.3],[13.75,.95,1.25,1.55,2.0],[14,.9,1.2,1.5,1.85],[14.25,1.05,1.35,1.65],[14.4,.75,1.15,1.5,1.9],[14.6,1.0,1.3,1.7]]
C_ALPHA=[[15.45,7.6,6.7],[15.9,7.65],[15.17,7.35],[15.3,6.63],[13,6.87],[13.74,6.37],[14.85,6.26],[16,6.35],[13.42,6.15],[16.4,6.11,2.43],[12.93,5.94],[17.13,5.93],[16.2,5.68],[18.56,5.6],[16.5,5.17],[16.3,4.87],[17.4,4.78],[17.6,4.04],[16.8,4.43],[17.8,2.5],[18.2,2.47],[21.3,3.81],
[11.7,2.6,3.15,3.8],[11.9,2.9],[12.1,2.4,3.0,3.5],[12.3,2.7,3.2,3.8],[12.5,2.3,2.9,3.4,3.9,4.4],[12.7,2.6,3.15,3.65,4.1],[12.9,2.2,2.75,3.25,3.75,4.25,5.4],[13.1,2.5,3.0,3.5,4.0,4.45],[13.3,2.1,2.6,3.1,3.6,4.1,4.75,5.65],[13.5,2.35,2.85,3.35,3.85,4.35,5.4],[13.7,2.2,2.7,3.2,3.7,4.2,4.7,5.5],[13.9,2.45,2.95,3.45,3.95,4.45,5.1,5.7],[14.1,1.7,2.2,2.7,3.2,3.7,4.2,5.05,5.6],[14.3,1.95,2.45,2.95,3.45,3.95,4.75,5.3,5.75],[14.5,1.8,2.3,2.8,3.3,3.8,4.3,4.85,5.4],[14.7,2.05,2.55,3.05,3.55,4.05,4.65,5.2,5.65],[14.9,1.9,2.4,2.9,3.4,3.9,4.75,5.3],[15.1,2.15,2.65,3.15,3.65,4.15,5.0],[15.3,2.0,2.5,3.0,3.5,4.0,5.0],[15.5,2.25,2.75,3.25,3.75,4.3,5.25],[15.7,2.6,3.1,3.6,4.1,4.95],[15.9,2.85,3.35,3.85,4.55],[16.1,3.0,3.5,4.5],[16.3,3.25,3.75,5.05],[16.6,2.8,3.4,3.85],[16.8,3.1,3.7],[17,2.8,3.4]]
C_BETA=[[15.09,2.74],[13.05,2.48]]
C_OTHER=[[14.36,7.1],[12.4,2.76],[14.27,2.2],[15.5,2.57],[15.9,2.39],[16.8,2.45]]
C_DELTA=[[23.33,8.54],[19.78,7.06,6.54],[20.76,6.59],[22,6.63],[18.03,6.37],[18.35,6.29],[18.92,6.19,5.81],[18.76,6.09],[18.43,5.98],[17.8,5.48],[19.94,5.7],[20.88,5.65],[21.5,6.35],[22.9,6.07],[23,5.9],[23.73,5.7],[26.3,3.02],[25.6,3.26],
[16.4,2.9,3.3,3.75],[16.6,3.1,3.55],[16.9,2.8,3.15,3.4],[17.1,3.0,3.2,3.6],[17.4,2.55,2.95,3.35,3.75],[17.6,2.75,3.15,3.55,4.0],[17.9,2.55,2.95,3.35,3.75],[18.1,2.75,3.15,3.55,4.9],[18.4,2.65,3.0,3.3,3.6,4.25],[18.6,2.85,3.15,3.45,3.75,5.05],[18.9,2.6,2.9,3.2,3.5,3.85],[19.1,2.75,3.05,3.35,3.65,4.55],[19.4,2.4,2.75,3.05,3.35,3.65,4.0,5.0],[19.6,2.6,2.9,3.2,3.5,3.85,4.2],[19.9,2.6,2.9,3.2,3.5,3.8,4.05],[20.1,2.75,3.05,3.35,3.65,3.95,5.45],[20.4,2.65,2.95,3.25,3.55,3.85,4.15],[20.6,2.8,3.1,3.4,3.7,4.0,5.05],[20.9,2.5,2.9,3.2,3.5,3.8,4.1,5.5],[21.1,2.75,3.05,3.35,3.65,3.95,4.3],[21.4,2.65,2.95,3.25,3.55,3.85,4.8,5.5],[21.6,2.8,3.1,3.4,3.7,4.0,5.4],[21.9,2.45,2.8,3.1,3.4,3.7,4.05,4.75,5.45],[22.1,2.65,2.95,3.25,3.55,3.85,4.5,5.1],[22.4,2.45,2.85,3.15,3.45,3.75,4.1,4.6,5.6],[22.6,2.7,3.0,3.3,3.6,3.9,4.3,5.3],[22.9,2.7,3.0,3.3,3.6,3.9,4.4,5.1],[23.1,2.85,3.15,3.45,3.75,4.1,4.6,5.45],[23.4,2.7,3.0,3.3,3.6],[23.6,2.85,3.15,3.45,3.8],[23.9,2.75,3.05,3.35],[24.1,2.9,3.2,3.5],[24.4,2.95,3.25],[24.6,3.1,3.4],[24.9,3.2,3.35,3.5],[25.4,3.05,3.3,3.55]]
C_OMI=[[23.74,1.25],[23.33,4.78],[23.2,4.6],[23.6,4.4,4.75],[23.8,4.65,4.95],[24.0,4.05,4.55,5.05],[24.2,4.3,4.8,5.3],[24.4,3.95,4.45,4.95,5.45],[24.6,4.2,4.7,5.2],[24.8,3.6,4.1,4.6,5.1,5.6,6.35],[25.0,3.85,4.35,4.85,5.35,6.0],[25.2,3.7,4.2,4.7,5.2,5.7,6.22,9.0],[25.4,3.95,4.45,4.95,5.45,6.0],[25.6,3.6,4.1,4.6,5.1,5.6,6.05],[25.8,3.85,4.35,4.85,5.35,5.8],[26,3.55,4.05,4.55,5.05,5.5],[26.2,3.8,4.3,4.8,5.3],[26.4,3.2,3.75,4.25,4.75,5.25,6.23],[26.6,3.5,4.0,4.5,5.0,6.05],[26.8,3.45,4.0,4.5,5.0],[27.0,3.75,4.25,4.75],[27.2,3.8,4.3,4.75],[27.4,4.05,4.55],[27.6,3.75,4.15,4.55],[27.8,3.95,4.35],[28,3.4,3.8,4.2,4.55],[28.2,3.6,4.0,4.4],[28.4,3.35,3.75,4.15],[28.6,3.55,3.95,4.35],[28.8,3.3,3.7,4.1,4.55],[29.0,3.5,3.9,4.3],[29.2,3.35,3.75,4.15],[29.4,3.55,3.95,4.35],[29.6,3.3,3.7,4.1,5.4],[29.8,3.5,3.9],[30,3.3,3.7,4.1],[30.2,3.5,3.9,4.55],[30.4,3.4,3.8,4.2,5.3],[30.6,3.6,4.0],[30.8,3.3,3.7,4.1],[31.0,3.5,3.9,4.5],[31.2,3.4,3.8,4.2],[31.4,3.6,4.0,4.55],[31.6,3.35,3.75,4.15],[31.8,3.55,3.95,4.4],[32,3.2,3.6,4.0,4.5],[32.2,3.4,3.8,4.2],[32.4,3.15,3.55,3.95],[32.6,3.35,3.75,4.15],[32.8,3.3,3.7,4.1],[33.0,3.5,3.9,4.35],[33.2,3.3,3.7,4.15],[33.4,3.5,3.9,4.5],[33.6,3.15,3.55,3.95,4.65],[33.8,3.35,3.75,4.3],[34,3.3,3.7,4.1],[34.2,3.5,3.9,4.95],[34.4,3.1,3.6,4.0],[34.6,3.4,3.8,4.15],[34.8,3.35,3.75,4.2],[35.0,3.55,3.95],[35.2,3.4,3.8],[35.4,3.6,4.0],[35.6,3.5,3.9],[35.8,3.7,4.2],[36,3.55,3.95,5.35],[36.2,3.75],[36.4,3.25,3.8,5.48],[36.6,3.6,4.0],[36.8,3.4,3.9],[37.0,3.7],[37.5,3.8,4.0],[38.4,3.5,3.55,3.7],[39.6,3.55,4.6],[40,4.85]]
C_275=[[29.5,4.2],[31,4.0,4.15],[31.5,4.0,4.5,4.65],[32,4.5,4.75,4.8],[32.5,3.9,4.2],[33.3,4.35,4.6],[34.5,4.1,4.3],[35.5,4.0,4.5],[36,4.15,4.25],[37,4.0,4.3],[37.6,4.15]]
C_CH=[[34.5,3.8,4.1,4.35],[35,3.8,4.05,4.25,4.5],[35.5,3.7,3.95,4.2,4.4],[36,3.75,4.0,4.2,4.45],[36.5,3.8,4.0,4.2,4.4],[37,3.5,3.85,4.05,4.25],[37.5,3.65,3.85,4.05],[38,3.7,3.95,4.2],[38.5,3.8,4.0],[39,3.75,3.95],[39.5,3.75],[36.3,5.17],[37.4,4.76]]
C_15=[[36.5,4.1,4.4],[37,4.3,4.5],[37.5,4.1,4.3,4.5],[38,4.2,4.45,4.6],[38.5,4.1,4.3,4.5,4.65,4.9],[39,4.2,4.4,4.6],[39.5,4.1,4.3]]
C_XBB=[[33.8,3.9,4.65],[34.4,4.5,4.7],[35,4.4,4.6],[36,4.2],[38.1,4.9]]
C_116=[[40.5,3.95,4.3,4.6],[41,3.7,4.0,4.3,4.65],[41.5,3.75,4.05,4.45],[42,3.85,4.15,4.55],[42.5,3.75,4.05,4.4],[43,3.85,4.15,4.5,4.8],[43.5,3.75,4.1,4.45,4.7],[44,3.8,4.1,4.4,4.8],[44.5,3.75,4.05,4.35,4.7,5.0],[45,3.75,4.0,4.3,4.6],[45.5,3.9,4.15,4.5,4.75],[46,3.9,4.2,4.55],[46.5,4.1]]
C_191=[[40.3,3.9,4.2],[41,4.5],[41.6,3.9,4.6],[42.2,3.85,4.3],[43,4.0,4.85],[43.8,4.05,4.55],[44.6,3.85,4.3],[45.4,4.0],[47.7,3.8,3.95]]
C_23=[[39.8,4.3],[40.5,4.45],[41.5,4.2,4.4],[42,4.35,4.7],[42.6,4.25,4.4,4.75],[43.3,4.25],[43.9,4.4,4.7],[44.5,4.15,4.9],[45.5,4.15,4.65],[46.7,4.25],[47.1,4.2,4.6],[44.1,5.37]]
C_EG=[[42.3,4.6,5.0],[43,5.1,5.15],[44,4.0,5.1],[44.6,4.4,4.7,5.1],[45,3.95,4.2,5.5],[45.5,3.95,4.4,5.05],[46,4.0,4.35,5.05,5.3],[46.3,3.95,4.6,5.9],[47,4.2,4.75,5.7]]
C_JN=[[46.9,5.7],[47.2,5.2,5.3,5.5],[47.5,5.2,5.4,5.6],[47.8,5.2,5.25,5.5]]
C_286=[[43.3,5.37],[45.2,5.3]]

W, H = 1186, 822
fig = plt.figure(figsize=(W/100, H/100), dpi=100, facecolor="white")

def px_axes(l, t, r, b):
    return fig.add_axes([l/W, 1-b/H, (r-l)/W, (b-t)/H])

def flat(rows):
    xs, ys = [], []
    for row in rows:
        for v in row[1:]:
            xs.append(row[0]); ys.append(v)
    return xs, ys

def panel(ax, layers, mx, my, size, lw, edge, ylim, yticks, ylabels, fs, tlen, pad):
    ax.set_xlim(0, 48); ax.set_ylim(*ylim)
    ax.set_xticks(range(0, 49, 3)); ax.set_xticklabels(MONTH_LABELS, linespacing=0.95)
    ax.set_yticks(yticks); ax.set_yticklabels(ylabels)
    ax.grid(True, color="#f0f0f0", lw=0.8); ax.set_axisbelow(True)
    for s in ax.spines.values(): s.set_visible(False)
    ax.tick_params(length=tlen, width=0.6, color="#777777", labelcolor="#444444", labelsize=fs, pad=pad)
    for rows, c in layers:
        x, y = flat(rows)
        ax.scatter(x, y, s=size, c=c, edgecolors="#333333", linewidths=edge, clip_on=False, zorder=3)
    ax.plot(mx, my, color="black", lw=lw, zorder=5, solid_joinstyle="round", solid_capstyle="round", clip_on=False)

axA = px_axes(348, 46, 1167, 348)
A_TICKS=[i*0.5 for i in range(19)]
panel(axA, [(A_NONVOC,COL_NONVOC),(A_ALPHA,COL_ALPHA),(A_BETA,COL_BETA),(A_OTHER,COL_OTHER),(A_DELTA,COL_DELTA),(A_OMI,COL_OMI),(A_275,COL_275),(A_XBB,COL_XBB),(A_CH,COL_CH),(A_15,COL_15),(A_116,COL_116),(A_EG,COL_EG),(A_191,COL_191),(A_23,COL_23),(A_286,COL_286),(A_JN,COL_JN)],
      A_MEAN_X, A_MEAN_Y, 24, 3.0, 0.55, (0, 9), A_TICKS, [f"{v:.1f}" for v in A_TICKS], 9.6, 3, 2)

axB = px_axes(336, 418, 728, 801)
B_TICKS=list(range(-44, 5, 2))
panel(axB, [(B_NONVOC,COL_NONVOC),(B_ALPHA,COL_ALPHA),(B_BETA,COL_BETA),(B_GAMMA,COL_GAMMA),(B_OTHER,COL_OTHER),(B_DELTA,COL_DELTA),(B_OMI,COL_OMI),(B_275,COL_275),(B_CH,COL_CH),(B_15,COL_15),(B_116,COL_116),(B_XBB,COL_XBB),(B_EG,COL_EG),(B_191,COL_191),(B_23,COL_23),(B_286,COL_286),(B_JN,COL_JN)],
      B_MEAN_X, B_MEAN_Y, 13, 2.1, 0.4, (-45.42, 5.46), B_TICKS, [str(v).replace("-", "\u2212") for v in B_TICKS], 6.5, 2, 0.5)

axC = px_axes(781, 418, 1173, 802)
C_TICKS=[i*0.5 for i in range(21)]
panel(axC, [(C_NONVOC,COL_NONVOC),(C_ALPHA,COL_ALPHA),(C_BETA,COL_BETA),(C_OTHER,COL_OTHER),(C_DELTA,COL_DELTA),(C_OMI,COL_OMI),(C_275,COL_275),(C_CH,COL_CH),(C_15,COL_15),(C_XBB,COL_XBB),(C_116,COL_116),(C_EG,COL_EG),(C_191,COL_191),(C_23,COL_23),(C_286,COL_286),(C_JN,COL_JN)],
      C_MEAN_X, C_MEAN_Y, 13, 2.1, 0.4, (0, 10), C_TICKS, [f"{v:.1f}" for v in C_TICKS], 6.5, 2, 0.5)

# overlay in pixel coordinates for the annotations and the hand-built legend
ov = fig.add_axes([0, 0, 1, 1], facecolor="none")
ov.set_xlim(0, W); ov.set_ylim(H, 0); ov.axis("off")

LETTER="#2f4b9b"
for s, x, y in [("A", 333, 21), ("B", 332, 398), ("C", 773, 398)]:
    ov.text(x, y, s, color=LETTER, fontsize=21, fontweight="bold", ha="center", va="center", family="Liberation Sans")
ov.text(307, 207, "Dynamic Semantic Score", rotation=90, ha="center", va="center", fontsize=9.1, color="#333333")
ov.text(304, 602, "Relative Sequence Grammaticality", rotation=90, ha="center", va="center", fontsize=8.2, color="#333333")
ov.text(749, 602, "Semantic Score", rotation=90, ha="center", va="center", fontsize=8.3, color="#333333")

def bracket(l, r, c, top, h, b, rad=5):
    verts=[(l,b),(l,h+rad),(l,h),(l+rad,h),(c-3,h),(c,h),(c,h-3),(c,top),(c,h-3),(c,h),(c+3,h),(r-rad,h),(r,h),(r,h+rad),(r,b)]
    codes=[Path.MOVETO,Path.LINETO,Path.CURVE3,Path.CURVE3,Path.LINETO,Path.CURVE3,Path.CURVE3,Path.LINETO,Path.LINETO,Path.CURVE3,Path.CURVE3,Path.LINETO,Path.CURVE3,Path.CURVE3,Path.LINETO]
    ov.add_patch(PathPatch(Path(verts,codes),fc="none",ec="#333333",lw=0.9))

def swatch(x, y, c, label, tx, w=16):
    ov.add_patch(Rectangle((x, y-w/2), w, w, fc=c, ec="none"))
    ov.text(tx, y, label, ha="center", va="center", fontsize=7.4, color="#222222", family="Liberation Sans", linespacing=1.25)

def title(x, y, s):
    ov.text(x, y, s, ha="center", va="center", fontsize=7.6, color="#222222", family="Liberation Sans")

title(152, 122, "WHO VOCs and VUIs"); bracket(65, 239, 152, 133, 145, 160)
swatch(69,166,COL_NONVOC,"Non-VOC",108); swatch(147,166,COL_GAMMA,"Gamma",186)
swatch(69,197,COL_ALPHA,"Alpha",108); swatch(147,197,COL_DELTA,"Delta",186)
swatch(69,228,COL_BETA,"Beta",108); swatch(147,228,COL_OMI,"Omicron (BA.*)",199)
swatch(69,259,COL_OTHER,"Epsilon, Eta, Iota, Kappa,\nLambda, Mu, Zeta",150)

title(84, 345, "BA.2.75 VUI Sublineages"); bracket(23, 140, 82, 357, 367, 383)
title(211, 345, "BA.2.86 VUI Sublineages"); bracket(149, 266, 208, 357, 367, 383)
swatch(27,390,COL_275,"Omicron (BA.2.75.*)",92); swatch(155,390,COL_286,"Omicron (BA.2.86.*)",218)
swatch(27,421,COL_CH,"Omicron (CH.1.1.*)",89); swatch(155,421,COL_JN,"Omicron (JN.1.*)",218)

title(150, 509, "XBB VUI Sublineages"); bracket(12, 289, 151, 521, 532, 547)
swatch(15,554,COL_XBB,"Omicron (XBB.*)",79); swatch(155,554,COL_191,"Omicron (XBB.1.9.1*)",230)
swatch(15,584,COL_116,"Omicron (XBB.1.16.*)",91); swatch(155,584,COL_192,"Omicron (XBB.1.9.2.*)",231)
swatch(15,615,COL_15,"Omicron (XBB.1.5.*)",89); swatch(155,615,COL_23,"Omicron (XBB.2.3.*)",227)

fig.savefig("out.png", dpi=100)
